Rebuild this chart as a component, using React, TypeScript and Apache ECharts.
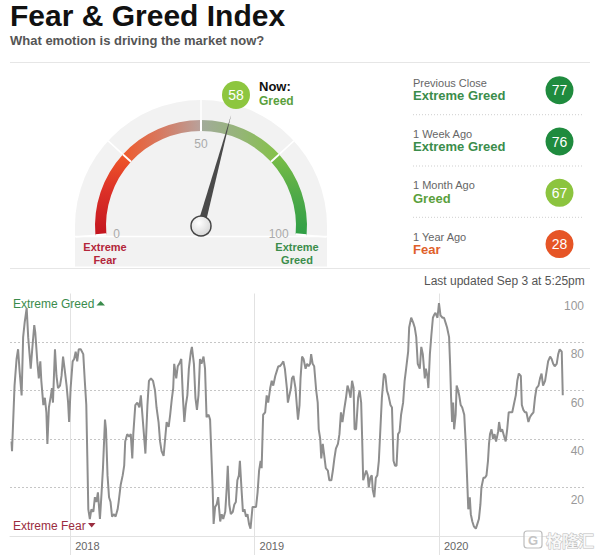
import React, { useEffect, useRef } from 'react';
import * as echarts from 'echarts';

const titleText = 'Fear & Greed Index';
const subtitleText = 'What emotion is driving the market now?';
const updatedText = 'Last updated Sep 3 at 5:25pm';

const nowValue = 58;
const nowRating = 'Greed';

const historyLabels = ['Previous Close', '1 Week Ago', '1 Month Ago', '1 Year Ago'];
const historyRatings = ['Extreme Greed', 'Extreme Greed', 'Greed', 'Fear'];
const historyValues = [77, 76, 67, 28];

const ratingTextColors: Record<string, string> = {
  'Extreme Fear': '#b3263a',
  Fear: '#e0602a',
  Greed: '#5aa03c',
  'Extreme Greed': '#3b8d4b',
};
const badgeColors: Record<string, string> = {
  Fear: '#e65526',
  Greed: '#8cc43f',
  'Extreme Greed': '#1f8b3e',
};

// x axis: days counted from 2018-01-01
const yearTickDays = [0, 365, 730];
const yearLabels = ['2018', '2019', '2020'];

const days = [
  -116, -115, -110, -106, -103, -100, -96, -93, -90, -86, -83, -78, -75, -71, -69, -65, -62, -59, -57, -53,
  -50, -47, -45, -42, -38, -36, -34, -30, -27, -24, -20, -17, -14, -11, -7, -4, -2, 1, 5, 8,
  11, 14, 17, 21, 26, 29, 32, 34, 36, 39, 42, 46, 49, 52, 55, 59, 62, 65, 69, 71,
  74, 77, 80, 83, 87, 90, 94, 96, 100, 104, 107, 109, 113, 117, 120, 123, 125, 129, 133, 137,
  140, 143, 146, 149, 153, 156, 160,
  164, 168, 171, 175, 178, 181, 185, 188, 191, 195, 198, 201, 204, 206, 210, 213, 216, 220, 223, 226,
  229, 232, 235, 239, 241, 245, 248, 251, 254, 257, 260, 264, 267, 270, 274, 277, 280, 282, 284, 287,
  290, 293, 297, 300, 303, 307, 310, 312, 315, 318, 322, 325, 328, 331, 334, 336, 339, 342, 345, 348,
  351, 354, 357, 361, 364, 368, 371, 374, 377, 379, 382, 386, 389, 392, 396, 399, 402, 406, 409, 412,
  415, 419, 422, 425, 429, 431, 434, 437,
  439, 442, 446, 449, 451, 454, 456, 459, 462, 466, 469, 472, 475, 477, 480, 483, 487, 490, 492, 495,
  497, 500, 503, 506, 510, 513, 517, 520, 523, 526, 530, 533, 536, 539, 543, 546, 549, 552, 555, 558,
  561, 563, 566, 570, 573, 576, 578, 580, 583, 586, 589, 591, 594, 597, 599, 602, 605, 608, 611, 614,
  617, 621, 624, 627, 630, 634, 637, 640, 643, 646, 649, 652, 655, 659, 662, 665, 669, 671, 675, 679,
  682, 685, 688, 692, 695, 698, 702, 704, 707, 709, 712, 715, 718,
  720, 723, 727, 730, 733, 737, 740, 743, 746, 750, 752, 754, 756, 758, 760, 763, 765, 768, 770, 773,
  776, 780, 783, 786, 788, 791, 793, 796, 799, 803, 806, 809, 812, 814, 818, 821, 824, 827, 829, 831,
  834, 837, 840, 843, 847, 849, 852, 855, 859, 862, 865, 868, 872, 875, 878, 882, 885, 888, 892, 894,
  897, 900, 903, 907, 910, 913, 917, 920, 923, 927, 930, 933, 936, 940, 943, 946, 950, 953, 956, 959,
  963, 966, 969, 973, 975,
];

const values = [
  39, 35, 62, 73, 77, 68, 58, 82, 88, 94, 82, 69, 77, 87, 84, 72, 65, 72, 64, 54,
  57, 51, 38, 53, 58, 61, 55, 77, 66, 61, 62, 66, 74, 69, 62, 55, 47, 61, 72, 73,
  76, 72, 77, 77, 75, 64, 54, 33, 11, 7, 11, 10, 16, 14, 18, 7, 17, 28, 48, 44,
  25, 16, 14, 8, 9, 8, 11, 14, 21, 25, 29, 39, 42, 41, 42, 32, 42, 54, 55, 53,
  58, 50, 42, 34, 54, 64, 65,
  64, 60, 53, 47, 39, 35, 33, 40, 47, 45, 50, 56, 61, 71, 65, 70, 71, 73, 58, 47,
  54, 58, 69, 76, 78, 71, 57, 52, 58, 73, 71, 74, 69, 49, 50, 48, 31, 20, 5, 12,
  13, 16, 6, 9, 7, 10, 20, 29, 13, 9, 10, 13, 14, 23, 25, 31, 20, 10, 11, 8,
  9, 5, 3, 12, 12, 12, 18, 27, 31, 28, 50, 51, 58, 55, 61, 64, 62, 66, 68, 70,
  70, 71, 72, 69, 61, 55, 58, 61,
  65, 66, 61, 53, 48, 54, 65, 74, 73, 69, 71, 70, 71, 75, 71, 70, 60, 55, 44, 40,
  32, 38, 33, 28, 27, 23, 23, 27, 32, 36, 38, 42, 51, 47, 53, 57, 62, 60, 57, 64,
  61, 44, 44, 57, 60, 55, 40, 23, 25, 27, 25, 20, 24, 25, 19, 16, 24, 25, 31, 44,
  57, 67, 66, 60, 58, 54, 53, 31, 29, 29, 42, 43, 50, 55, 64, 69, 76, 86, 90, 88,
  86, 82, 71, 69, 78, 75, 65, 69, 66, 61, 75, 83, 90,
  91, 92, 90, 96, 91, 90, 90, 88, 86, 82, 71, 57, 47, 55, 44, 50, 62, 60, 58, 54,
  53, 50, 38, 22, 11, 16, 9, 6, 4, 3, 5, 7, 13, 20, 24, 24, 25, 31, 38, 42,
  44, 40, 42, 39, 43, 47, 43, 44, 41, 39, 44, 51, 51, 51, 54, 58, 64, 67, 66, 54,
  52, 51, 51, 47, 49, 50, 51, 57, 61, 62, 65, 67, 62, 64, 68, 72, 74, 73, 71, 70,
  71, 75, 77, 76, 58,
];

const FONT = '"Liberation Sans", Arial, Helvetica, sans-serif';

function buildOption() {
  const lg = (x: number, y: number, x2: number, y2: number, stops: [number, string][]) =>
    new echarts.graphic.LinearGradient(x, y, x2, y2, stops.map(([offset, color]) => ({ offset, color })));

  const gaugeColors: any[] = [
    [0.25, lg(0, 1, 0, 0, [[0, '#c3151f'], [0.55, '#dc3128'], [1, '#ef5829']])],
    [0.5, lg(0, 0, 1, 0, [[0, '#ee5a2c'], [0.5, '#d67a62'], [1, '#b8a29c']])],
    [0.75, lg(0, 0, 1, 0, [[0, '#a2ab9a'], [0.5, '#95b577'], [1, '#84c247']])],
    [1, lg(0, 0, 0, 1, [[0, '#7abd46'], [0.5, '#50aa48'], [1, '#2f9f46']])],
  ];

  const elements: any[] = [];
  const txt = (x: number, y: number, text: string, font: string, fill: string, align = 'left', z = 50) => ({
    type: 'text',
    x,
    y,
    z,
    silent: true,
    style: { text, font, fill, align, verticalAlign: 'middle' },
  });

  // header
  elements.push(txt(10, 15.5, titleText, `bold 30px ${FONT}`, '#111'));
  elements.push(txt(10, 40, subtitleText, `bold 13px ${FONT}`, '#555'));
  elements.push({ type: 'line', z: 1, silent: true, shape: { x1: 10, y1: 62.5, x2: 590, y2: 62.5 }, style: { stroke: '#e6e6e6', lineWidth: 1 } });
  elements.push({ type: 'line', z: 1, silent: true, shape: { x1: 10, y1: 268.5, x2: 590, y2: 268.5 }, style: { stroke: '#e6e6e6', lineWidth: 1 } });

  // gauge backdrop
  elements.push({
    type: 'sector', z: 0, silent: true,
    shape: { cx: 201, cy: 226, r: 126, r0: 0, startAngle: Math.PI, endAngle: Math.PI * 2 },
    style: { fill: '#f2f2f2' },
  });
  elements.push({ type: 'rect', z: 0, silent: true, shape: { x: 75, y: 225.5, width: 252, height: 41 }, style: { fill: '#f2f2f2' } });
  elements.push({ type: 'line', z: 1, silent: true, shape: { x1: 75, y1: 236.5, x2: 327, y2: 236.5 }, style: { stroke: '#ffffff', lineWidth: 1.5 } });

  // gauge end captions
  elements.push(txt(105, 247, 'Extreme', `bold 11px ${FONT}`, ratingTextColors['Extreme Fear'], 'center'));
  elements.push(txt(105, 259.5, 'Fear', `bold 11px ${FONT}`, ratingTextColors['Extreme Fear'], 'center'));
  elements.push(txt(297, 247, 'Extreme', `bold 11px ${FONT}`, ratingTextColors['Extreme Greed'], 'center'));
  elements.push(txt(297, 259.5, 'Greed', `bold 11px ${FONT}`, ratingTextColors['Extreme Greed'], 'center'));

  // now label
  elements.push(txt(259, 86, 'Now:', `bold 13px ${FONT}`, '#111'));
  elements.push(txt(259, 100.5, nowRating, `bold 12px ${FONT}`, ratingTextColors[nowRating]));

  // history panel
  historyLabels.forEach((label, i) => {
    const top = 82.7 + i * 51.3;
    const rating = historyRatings[i];
    elements.push(txt(413, top, label, `11px ${FONT}`, '#666'));
    elements.push(txt(413, top + 12.7, rating, `bold 13px ${FONT}`, ratingTextColors[rating]));
    elements.push({
      type: 'circle', z: 40, silent: true,
      shape: { cx: 559.5, cy: top + 7.5, r: 14 },
      style: { fill: badgeColors[rating] },
    });
    elements.push(txt(559.5, top + 7.5, String(historyValues[i]), `14px ${FONT}`, '#ffffff', 'center', 60));
    if (i < historyLabels.length - 1) {
      const ly = top + 32;
      elements.push({
        type: 'line', z: 1, silent: true,
        shape: { x1: 413, y1: ly, x2: 583, y2: ly },
        style: { stroke: '#cfcfcf', lineWidth: 1, lineDash: [1, 2] },
      });
    }
  });

  // history chart annotations
  elements.push(txt(424, 281, updatedText, `12px ${FONT}`, '#555'));
  elements.push(txt(13, 304, 'Extreme Greed', `12px ${FONT}`, '#3a8b4c'));
  elements.push({ type: 'polygon', z: 50, silent: true, shape: { points: [[96.5, 305.5], [100.7, 301], [105, 305.5]] }, style: { fill: '#3a8b4c' } });
  elements.push(txt(13, 525.5, 'Extreme Fear', `12px ${FONT}`, '#9a2d40'));
  elements.push({ type: 'polygon', z: 50, silent: true, shape: { points: [[88, 523], [95.5, 523], [91.7, 527.5]] }, style: { fill: '#9a2d40' } });

  // watermark
  elements.push({ type: 'rect', z: 60, silent: true, shape: { x: 524, y: 531, width: 18, height: 17, r: 3 }, style: { fill: 'rgba(255,255,255,0.6)', stroke: '#bdbdbd', lineWidth: 1.2 } });
  elements.push(txt(533, 540, 'G', `bold 13px ${FONT}`, '#c4c4c4', 'center', 61));
  elements.push({
    type: 'text', x: 546, y: 540, z: 60, silent: true,
    style: { text: '格隆汇', font: `bold 16px "Noto Sans CJK SC", sans-serif`, fill: 'rgba(255,255,255,0.8)', stroke: '#bcbcbc', lineWidth: 1, align: 'left', verticalAlign: 'middle' },
  });

  const lineData = days.map((d, i) => [d, values[i]]);
  const transparent = 'rgba(0,0,0,0)';

  return {
    animation: false,
    textStyle: { fontFamily: FONT },
    grid: { left: 10, right: 15, top: 293.5, bottom: 20, outerBoundsMode: 'none' },
    xAxis: {
      type: 'value',
      min: -119,
      max: 1019,
      axisLine: { show: true, onZero: false, lineStyle: { color: '#e2e2e2', width: 1 } },
      axisTick: { show: true, length: 19, lineStyle: { color: '#e2e2e2' }, customValues: yearTickDays },
      axisLabel: {
        customValues: yearTickDays,
        formatter: (v: number) => {
          const idx = yearTickDays.indexOf(Math.round(v));
          return idx >= 0 ? yearLabels[idx] : '';
        },
        align: 'left',
        padding: [0, 0, 0, 5],
        margin: 4,
        color: '#666',
        fontSize: 11,
      },
      splitLine: { show: true, lineStyle: { color: '#e2e2e2', width: 1 } },
    },
    yAxis: {
      type: 'value',
      position: 'right',
      min: 0,
      max: 100,
      interval: 20,
      axisLine: { show: false },
      axisTick: { show: false },
      axisLabel: {
        inside: true,
        margin: 1,
        verticalAlign: 'top',
        padding: [6, 0, 0, 0],
        color: '#999',
        fontSize: 12,
        formatter: (v: number) => (v === 0 ? '' : String(v)),
      },
      splitLine: {
        show: true,
        lineStyle: { color: [transparent, '#c6c6c6', '#c6c6c6', '#c6c6c6', '#c6c6c6', transparent], type: [2, 2], width: 1 },
      },
    },
    series: [
      {
        type: 'line',
        data: lineData,
        showSymbol: false,
        symbol: 'none',
        lineStyle: { color: '#8e8e8e', width: 2 },
        z: 3,
        silent: true,
      },
      {
        type: 'gauge',
        center: [201, 226],
        radius: 126,
        startAngle: 185,
        endAngle: -5,
        min: 0,
        max: 100,
        splitNumber: 4,
        z: 1,
        axisLine: { show: false, lineStyle: { width: 0 } },
        splitLine: { show: true, length: 20, distance: 0, lineStyle: { color: '#ffffff', width: 1.5 } },
        axisTick: { show: false },
        axisLabel: { show: false },
        pointer: { show: false },
        anchor: { show: false },
        title: { show: false },
        detail: { show: false },
        data: [{ value: 0 }],
        silent: true,
      },
      {
        type: 'gauge',
        center: [201, 226],
        radius: 106,
        startAngle: 185,
        endAngle: -5,
        min: 0,
        max: 100,
        splitNumber: 4,
        z: 5,
        axisLine: { lineStyle: { width: 11, color: gaugeColors } },
        splitLine: { show: true, length: 11, distance: -11, lineStyle: { color: '#ffffff', width: 2 } },
        axisTick: { show: false },
        axisLabel: {
          distance: 18,
          color: '#aaaaaa',
          fontSize: 12,
          fontFamily: FONT,
          formatter: (v: number) => (v % 50 === 0 ? String(v) : ''),
        },
        pointer: { show: true, length: 115, width: 3.8, itemStyle: { color: '#4a4a4a' } },
        anchor: {
          show: true,
          showAbove: true,
          size: 20,
          itemStyle: {
            color: new echarts.graphic.RadialGradient(0.4, 0.35, 0.75, [
              { offset: 0, color: '#ffffff' },
              { offset: 1, color: '#d2d2d2' },
            ]),
            borderColor: '#444',
            borderWidth: 1.5,
          },
        },
        title: { show: false },
        detail: {
          show: true,
          valueAnimation: false,
          offsetCenter: [35, -131],
          formatter: '{value}',
          width: 28,
          height: 28,
          lineHeight: 28,
          padding: 0,
          borderRadius: 14,
          backgroundColor: '#8dc63f',
          color: '#ffffff',
          fontSize: 14,
          fontWeight: 'normal',
          fontFamily: FONT,
          align: 'center',
        },
        data: [{ value: nowValue }],
        silent: true,
      },
    ],
    graphic: { elements },
  };
}

export default function App() {
  const ref = useRef<HTMLDivElement>(null);
  useEffect(() => {
    if (!ref.current) return;
    const chart = echarts.init(ref.current, undefined, { renderer: 'svg' });
    chart.setOption(buildOption() as any);
    return () => chart.dispose();
  }, []);
  return (
    <div
      ref={ref}
      style={{ position: 'absolute', left: 0, top: 0, width: 600, height: 556, background: '#ffffff' }}
    />
  );
}
